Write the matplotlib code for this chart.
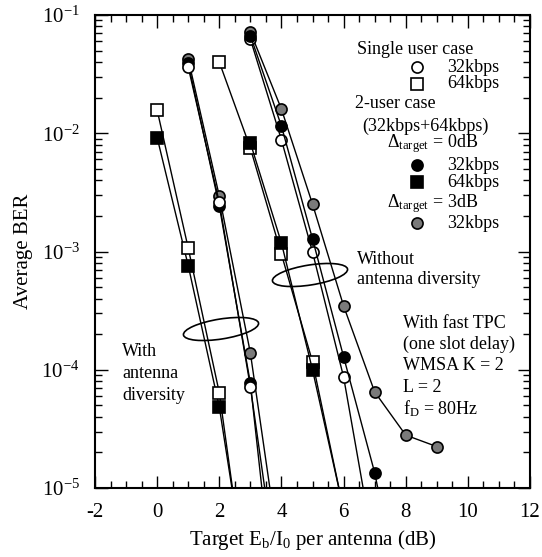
import matplotlib
matplotlib.use("Agg")
import matplotlib.pyplot as plt
from matplotlib.patches import Ellipse

# === DATA ===
# with antenna diversity
x_div_sq = [0, 1, 2, 3]
sq64_single_div = [1.57e-2, 1.07e-3, 6.4e-5, 8e-7]
sq64_two_div = [9.2e-3, 7.6e-4, 4.85e-5, 1.0e-6]
x_div_c = [1, 2, 3, 4]
c32_single_div = [3.63e-2, 2.6e-3, 7.2e-5, 1.0e-6]
c32_two_div = [3.9e-2, 2.43e-3, 7.7e-5, 3.1e-7]
c32_3db_div = [4.25e-2, 2.95e-3, 1.39e-4, 2.1e-6]

# without antenna diversity
x_nodiv_sq_single = [2, 3, 4, 5, 6]
sq64_single_nodiv = [4.0e-2, 7.5e-3, 9.5e-4, 1.17e-4, 6.5e-6]
x_nodiv_sq_two = [3, 4, 5, 6]
sq64_two_nodiv = [8.3e-3, 1.18e-3, 1.0e-4, 6.6e-6]
x_nodiv_c_single = [3, 4, 5, 6, 7]
c32_single_nodiv = [6.26e-2, 8.8e-3, 9.9e-4, 8.7e-5, 2.8e-6]
x_nodiv_c_two = [3, 4, 5, 6, 7, 8]
c32_two_nodiv = [6.7e-2, 1.15e-2, 1.28e-3, 1.29e-4, 1.35e-5, 6.8e-7]
x_nodiv_c_3db = [3, 4, 5, 6, 7, 8, 9]
c32_3db_nodiv = [7.2e-2, 1.6e-2, 2.52e-3, 3.47e-4, 6.5e-5, 2.8e-5, 2.24e-5]

x_ticks = [-2, 0, 2, 4, 6, 8, 10, 12]

# === STYLE ===
plt.rcParams["font.family"] = ["Liberation Serif", "DejaVu Serif"]
plt.rcParams["mathtext.fontset"] = "custom"
plt.rcParams["mathtext.rm"] = "Liberation Serif"
plt.rcParams["mathtext.it"] = "Liberation Serif:italic"
plt.rcParams["axes.unicode_minus"] = False

W, H = 542, 557
fig = plt.figure(figsize=(W / 100, H / 100), dpi=100)
ax = fig.add_axes([95 / W, 1 - 488 / H, 435 / W, 473 / H])

GREY = "#7a7a7a"
styles = {
    "open_c": dict(marker="o", mfc="white", mec="black"),
    "fill_c": dict(marker="o", mfc="black", mec="black"),
    "hat_c": dict(marker="o", mfc=GREY, mec="black"),
    "open_s": dict(marker="s", mfc="white", mec="black"),
    "fill_s": dict(marker="s", mfc="black", mec="black"),
}

series = [
    (x_div_sq, sq64_two_div, "fill_s"),
    (x_div_sq, sq64_single_div, "open_s"),
    (x_div_c, c32_3db_div, "hat_c"),
    (x_div_c, c32_two_div, "fill_c"),
    (x_div_c, c32_single_div, "open_c"),
    (x_nodiv_sq_single, sq64_single_nodiv, "open_s"),
    (x_nodiv_sq_two, sq64_two_nodiv, "fill_s"),
    (x_nodiv_c_3db, c32_3db_nodiv, "hat_c"),
    (x_nodiv_c_single, c32_single_nodiv, "open_c"),
    (x_nodiv_c_two, c32_two_nodiv, "fill_c"),
]
for xs, ys, st in series:
    ax.plot(xs, ys, color="black", lw=1.0, ms=8, mew=1.2, **styles[st])

ax.set_yscale("log")
ax.set_xlim(-2, 12)
ax.set_ylim(1e-5, 1e-1)
ax.set_xticks(x_ticks)
ax.set_xticks([v / 2 for v in range(-4, 25)], minor=True)
ax.tick_params(which="both", direction="in", top=True, right=True,
               labelsize=15, width=1.0, pad=11)
ax.tick_params(which="major", length=9)
ax.tick_params(which="minor", length=5)
for s in ax.spines.values():
    s.set_linewidth(1.5)

ax.set_xlabel(r"Target E$_\mathrm{b}$/I$_\mathrm{0}$ per antenna (dB)", fontsize=15,
              labelpad=4)
ax.set_ylabel("Average BER", fontsize=15, labelpad=6)

# === LEGEND (drawn by hand) ===
def fx(px):
    return px / W

def fy(py):
    return 1 - py / H

def axpt(px, py):
    return (px - 95) / 435, 1 - (py - 15) / 473

fs = 13
fig.text(fx(357), fy(50), "Single user case", fontsize=fs, va="center")
leg = [(67, "open_c"), (84, "open_s"), (165, "fill_c"), (182, "fill_s"), (223, "hat_c")]
for py, st in leg:
    mx, my = axpt(417, py)
    ax.plot([mx], [my], transform=ax.transAxes, ms=8, mew=1.2, ls="none",
            clip_on=False, **styles[st])
    fig.text(fx(447), fy(py), ("64kbps" if st.endswith("_s") else "32kbps"),
             fontsize=fs, va="center")
fig.text(fx(355), fy(103), "2-user case", fontsize=fs, va="center")
fig.text(fx(362), fy(126), "(32kbps+64kbps)", fontsize=fs, va="center")
fig.text(fx(387), fy(144), r"Δ$_\mathrm{target}$ = 0dB", fontsize=fs, va="center")
fig.text(fx(387), fy(204), r"Δ$_\mathrm{target}$ = 3dB", fontsize=fs, va="center")

fig.text(fx(357), fy(259), "Without", fontsize=fs, va="center")
fig.text(fx(357), fy(280), "antenna diversity", fontsize=fs, va="center")

for i, t in enumerate(["With fast TPC", "(one slot delay)", "WMSA K = 2", "L = 2",
                       r"f$_\mathrm{D}$ = 80Hz"]):
    fig.text(fx(403), fy(323 + i * 21.5), t, fontsize=fs, va="center")

for i, t in enumerate(["With", "antenna", "diversity"]):
    fig.text(fx(122), fy(352 + i * 21.5), t, fontsize=fs, va="center")

# ellipses marking the groups
for cx, cy in [(310, 275), (221, 329)]:
    e = Ellipse((cx / 100, (H - cy) / 100), 0.76, 0.2, angle=9,
                transform=fig.dpi_scale_trans, fill=False, ec="black", lw=1.2)
    fig.add_artist(e)

fig.savefig("out.png", dpi=100)
